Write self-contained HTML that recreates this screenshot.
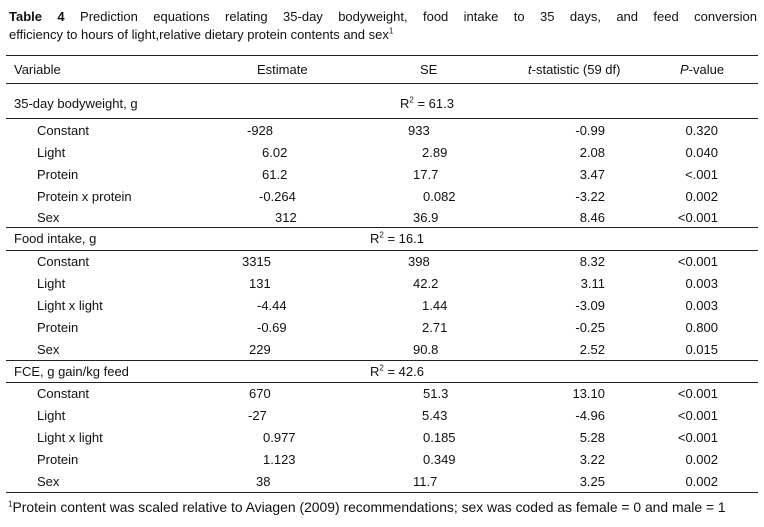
<!DOCTYPE html>
<html><head><meta charset="utf-8"><style>
body{margin:0;background:#fff;}
#p{position:relative;width:764px;height:527px;background:#fff;font-family:"Liberation Sans",Arial,sans-serif;font-size:13px;color:#111;overflow:hidden}
#p div{position:absolute;white-space:nowrap;line-height:16px}
.l{position:absolute;left:6px;width:752px;height:1px;background:#222}
sup{font-size:8px;line-height:0}
</style></head><body>
<div id="p">
<div style="left:9px;top:8px;width:748px;white-space:normal;text-align:justify;text-align-last:justify;line-height:18px"><b>Table 4</b> Prediction equations relating 35-day bodyweight, food intake to 35 days, and feed conversion</div>
<div style="left:9px;top:26px;line-height:18px">efficiency to hours of light,relative dietary protein contents and sex<sup>1</sup></div>
<span class="l" style="top:55px"></span>
<span class="l" style="top:83px"></span>
<span class="l" style="top:118px"></span>
<span class="l" style="top:227px"></span>
<span class="l" style="top:250px"></span>
<span class="l" style="top:360px"></span>
<span class="l" style="top:382px"></span>
<span class="l" style="top:492px"></span>
<div style="left:14px;top:62px">Variable</div>
<div style="left:257px;top:62px">Estimate</div>
<div style="left:420px;top:62px">SE</div>
<div style="left:528px;top:62px"><i>t</i>-statistic (59 df)</div>
<div style="left:680px;top:62px"><i>P</i>-value</div>
<div style="left:8px;top:499px;font-size:13.9px"><sup>1</sup>Protein content was scaled relative to Aviagen (2009) recommendations; sex was coded as female = 0 and male = 1</div>
</div>
<script>
const rows=[
[96,"35-day bodyweight, g",14,"",0,"",0,"","","R<sup>2</sup> = 61.3",400],
[123,"Constant",37,"-928",247,"933",408,"-0.99","0.320"],
[145,"Light",37,"6.02",262,"2.89",422,"2.08","0.040"],
[167,"Protein",37,"61.2",262,"17.7",413,"3.47","<.001"],
[189,"Protein x protein",37,"-0.264",259,"0.082",423,"-3.22","0.002"],
[210,"Sex",37,"312",275,"36.9",413,"8.46","<0.001"],
[231,"Food intake, g",14,"",0,"",0,"","","R<sup>2</sup> = 16.1",370],
[254,"Constant",37,"3315",242,"398",408,"8.32","<0.001"],
[276,"Light",37,"131",249,"42.2",413,"3.11","0.003"],
[298,"Light x light",37,"-4.44",257,"1.44",422,"-3.09","0.003"],
[320,"Protein",37,"-0.69",257,"2.71",422,"-0.25","0.800"],
[342,"Sex",37,"229",249,"90.8",413,"2.52","0.015"],
[364,"FCE, g gain/kg feed",14,"",0,"",0,"","","R<sup>2</sup> = 42.6",370],
[386,"Constant",37,"670",249,"51.3",423,"13.10","<0.001"],
[408,"Light",37,"-27",248,"5.43",422,"-4.96","<0.001"],
[430,"Light x light",37,"0.977",263,"0.185",423,"5.28","<0.001"],
[452,"Protein",37,"1.123",263,"0.349",423,"3.22","0.002"],
[474,"Sex",37,"38",256,"11.7",413,"3.25","0.002"]];
const host=document.getElementById('p');
function add(txt,x,y,name,html,right){
 const d=document.createElement('div');
 
 
 if(right)d.style.right=(764-x)+'px';else d.style.left=x+'px';
 d.style.top=y+'px';
 if(html)d.innerHTML=txt;else d.textContent=txt;
 host.appendChild(d);
}
rows.forEach(r=>{
 add(r[1],r[2],r[0],'row-label');
 if(r[3]!=="")add(r[3],r[4],r[0],'estimate-cell');
 if(r[5]!=="")add(r[5],r[6],r[0],'se-cell');
 if(r[7]!=="")add(r[7],605,r[0],'t-cell',false,true);
 if(r[8]!=="")add(r[8],718,r[0],'p-cell',false,true);
 if(r[9])add(r[9],r[10],r[0],'r-squared',true);
});
</script>
</body></html>
